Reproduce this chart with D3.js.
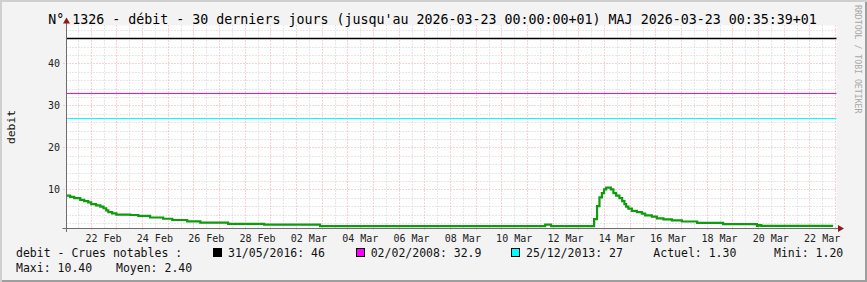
<!DOCTYPE html>
<html>
<head>
<meta charset="utf-8">
<script src="https://cdn.jsdelivr.net/npm/d3@7"></script>
<style>
  html, body { margin: 0; padding: 0; background: #f3f3f3; }
  svg { display: block; }
  text { font-family: "DejaVu Sans Mono", monospace; }
</style>
</head>
<body>
<div id="chart"></div>
<script>
// chart size
var width = 867;
var height = 282;

var titleText = "N° 1326 - débit - 30 derniers jours (jusqu'au 2026-03-23 00:00:00+01) MAJ 2026-03-23 00:35:39+01";

// debit steps (time the level starts, value)
var stepTimes = [
  "2026-02-21T00:00", "2026-02-21T04:48", "2026-02-21T08:36", "2026-02-21T14:12",
  "2026-02-21T17:54", "2026-02-21T21:42", "2026-02-22T00:30", "2026-02-22T05:00",
  "2026-02-22T09:00", "2026-02-22T12:00", "2026-02-22T14:30", "2026-02-22T16:30",
  "2026-02-22T20:00", "2026-02-23T00:00", "2026-02-23T13:00", "2026-02-23T20:30",
  "2026-02-24T07:30", "2026-02-24T19:45", "2026-02-25T04:15", "2026-02-25T18:15",
  "2026-02-26T06:30", "2026-02-27T08:30", "2026-02-28T18:15", "2026-03-02T22:30",
  "2026-03-11T17:00", "2026-03-11T22:30", "2026-03-13T14:45", "2026-03-13T17:30",
  "2026-03-13T19:45", "2026-03-13T22:00", "2026-03-14T00:00", "2026-03-14T02:00",
  "2026-03-14T06:24", "2026-03-14T08:48", "2026-03-14T11:18", "2026-03-14T14:24",
  "2026-03-14T17:00", "2026-03-14T19:06", "2026-03-14T20:42", "2026-03-14T22:48",
  "2026-03-15T02:00", "2026-03-15T06:42", "2026-03-15T11:24", "2026-03-15T14:30",
  "2026-03-15T20:42", "2026-03-16T01:24", "2026-03-16T07:36", "2026-03-16T15:24",
  "2026-03-17T00:48", "2026-03-17T15:06", "2026-03-18T15:24", "2026-03-19T23:00",
  "2026-03-20T00:30", "2026-03-20T03:00", "2026-03-22T22:12"
];
var stepValues = [
  8.5, 8.2, 7.9, 7.5,
  7.2, 6.9, 6.5, 6.2,
  5.9, 5.5, 5.0, 4.6,
  4.3, 4.0, 3.9, 3.7,
  3.3, 3.0, 2.7, 2.4,
  2.1, 1.8, 1.6, 1.25,
  1.6, 1.25, 2.9, 6.0,
  8.1, 9.1, 10.0, 10.4,
  10.0, 9.1, 8.5, 7.9,
  7.2, 6.5, 5.9, 5.4,
  4.9, 4.6, 4.2, 3.8,
  3.5, 3.1, 2.85, 2.6,
  2.35, 2.0, 1.7, 1.3,
  1.5, 1.3, 1.3
];

// notable floods
var floodDates = ["31/05/2016", "02/02/2008", "25/12/2013"];
var floodValues = [46, 32.9, 27];
var floodColors = ["#000000", "#ff00ff", "#00ffff"];

var statActuel = "1.30";
var statMini = "1.20";
var statMaxi = "10.40";
var statMoyen = "2.40";

// x axis labels (one every two days)
var tickDays = [
  "2026-02-22", "2026-02-24", "2026-02-26", "2026-02-28", "2026-03-02",
  "2026-03-04", "2026-03-06", "2026-03-08", "2026-03-10", "2026-03-12",
  "2026-03-14", "2026-03-16", "2026-03-18", "2026-03-20", "2026-03-22"
];
var yTicks = [10, 20, 30, 40];

var parseTime = d3.timeParse("%Y-%m-%dT%H:%M");
var parseDay = d3.timeParse("%Y-%m-%d");

// plot box
var plotL = 66.5, plotR = 835, plotT = 25.5, plotB = 228;

var x = d3.scaleTime()
  .domain([parseTime("2026-02-21T01:22"), parseTime("2026-03-23T00:00")])
  .range([plotL, plotR]);

var y = d3.scaleLinear()
  .domain([0.8, 49])
  .range([plotB, plotT]);

function snap(v) { return Math.round(v) + 0.5; }

var svg = d3.select("#chart")
  .append("svg")
  .attr("width", width)
  .attr("height", height);

// frame with shade
svg.append("rect")
  .attr("width", width).attr("height", height)
  .attr("fill", "#f3f3f3");
svg.append("path")
  .attr("d", "M1,282 V1 H867")
  .attr("fill", "none").attr("stroke", "#cfcfcf").attr("stroke-width", 2);
svg.append("path")
  .attr("d", "M2,281 H866 V2")
  .attr("fill", "none").attr("stroke", "#9e9e9e").attr("stroke-width", 2);

// canvas
svg.append("rect")
  .attr("x", plotL).attr("y", plotT)
  .attr("width", plotR - plotL + 1.5).attr("height", plotB - plotT)
  .attr("fill", "#ffffff");

var grid = svg.append("g").attr("fill", "none").attr("stroke-dasharray", "1,2");

// minor grid
var minorY = d3.range(2, 49, 2).filter(function(v) { return v % 10 !== 0; });
grid.selectAll(".minY")
  .data(minorY)
  .enter().append("line")
  .attr("x1", plotL).attr("x2", plotR + 1.5)
  .attr("y1", function(d) { return snap(y(d)); })
  .attr("y2", function(d) { return snap(y(d)); })
  .attr("stroke", "#cfcfcf");

var halfDays = d3.timeHour.every(12).range(x.domain()[0], x.domain()[1]);
var minorX = halfDays.filter(function(d) { return d.getHours() === 12; });
grid.selectAll(".minX")
  .data(minorX)
  .enter().append("line")
  .attr("y1", plotT).attr("y2", plotB)
  .attr("x1", function(d) { return snap(x(d)); })
  .attr("x2", function(d) { return snap(x(d)); })
  .attr("stroke", "#cfcfcf");

// major grid
var days = d3.timeDay.range(x.domain()[0], x.domain()[1]);
days.push(x.domain()[1]);
grid.selectAll(".majX")
  .data(days)
  .enter().append("line")
  .attr("y1", plotT).attr("y2", plotB + 2)
  .attr("x1", function(d) { return snap(x(d)); })
  .attr("x2", function(d) { return snap(x(d)); })
  .attr("stroke", "#f2a6a6");

grid.selectAll(".majY")
  .data(yTicks)
  .enter().append("line")
  .attr("x1", plotL - 3).attr("x2", plotR + 1.5)
  .attr("y1", function(d) { return snap(y(d)); })
  .attr("y2", function(d) { return snap(y(d)); })
  .attr("stroke", "#f2a6a6");

// flood reference lines
svg.selectAll(".flood")
  .data(floodValues)
  .enter().append("line")
  .attr("x1", plotL).attr("x2", plotR + 1.5)
  .attr("y1", function(d) { return snap(y(d)); })
  .attr("y2", function(d) { return snap(y(d)); })
  .attr("stroke", function(d, i) { return floodColors[i]; })
  .attr("stroke-width", function(d, i) { return i === 0 ? 1.5 : 1; });

// debit line
var data = stepTimes.map(function(t, i) {
  return { date: parseTime(t), value: stepValues[i] };
});

var line = d3.line()
  .curve(d3.curveStepAfter)
  .x(function(d) { return Math.max(plotL, x(d.date)); })
  .y(function(d) { return y(d.value); });

svg.append("path")
  .datum(data)
  .attr("d", line)
  .attr("fill", "none")
  .attr("stroke", "#0c9c0c")
  .attr("stroke-width", 2.2);

// axes
var axisColor = "#6e6e6e";
svg.append("line")
  .attr("x1", plotL - 4).attr("x2", plotR + 4)
  .attr("y1", plotB + 0.5).attr("y2", plotB + 0.5)
  .attr("stroke", axisColor);
svg.append("line")
  .attr("x1", plotL).attr("x2", plotL)
  .attr("y1", plotB + 4).attr("y2", plotT - 3)
  .attr("stroke", axisColor);
svg.append("path")
  .attr("d", "M" + (plotL - 3.5) + "," + (plotT - 2) + " L" + plotL + "," + (plotT - 8) + " L" + (plotL + 3.5) + "," + (plotT - 2) + "Z")
  .attr("fill", "#8b1c1c");
svg.append("path")
  .attr("d", "M" + (plotR + 3) + "," + (plotB - 3) + " L" + (plotR + 9) + "," + (plotB + 0.5) + " L" + (plotR + 3) + "," + (plotB + 4) + "Z")
  .attr("fill", "#8b1c1c");

// tick labels
var fmt = d3.timeFormat("%d %b");
svg.selectAll(".xl")
  .data(tickDays.map(parseDay))
  .enter().append("text")
  .attr("x", function(d) { return x(d3.timeHour.offset(d, 12)); })
  .attr("y", 241.5)
  .attr("text-anchor", "middle")
  .attr("font-size", "10px")
  .attr("fill", "#222")
  .text(function(d) { return fmt(d); });

svg.selectAll(".yl")
  .data(yTicks)
  .enter().append("text")
  .attr("x", 60)
  .attr("y", function(d) { return y(d); })
  .attr("dy", "0.35em")
  .attr("text-anchor", "end")
  .attr("font-size", "10px")
  .attr("fill", "#222")
  .text(function(d) { return d; });

// title and labels
svg.append("text")
  .attr("x", 432.5).attr("y", 24)
  .attr("text-anchor", "middle")
  .attr("font-size", "13.3px")
  .attr("fill", "#000")
  .text(titleText);

svg.append("text")
  .attr("transform", "translate(15,127) rotate(-90)")
  .attr("text-anchor", "middle")
  .attr("font-size", "11.3px")
  .attr("fill", "#111")
  .text("debit");

svg.append("text")
  .attr("transform", "translate(854.5,5) rotate(90)")
  .attr("font-size", "8.2px")
  .attr("fill", "#a8a8a8")
  .text("RRDTOOL / TOBI OETIKER");

// legend
var legend = svg.append("g")
  .attr("font-size", "11.5px")
  .attr("fill", "#111");

legend.append("text").attr("x", 16).attr("y", 257.3).text("debit - Crues notables :");

var boxX = [213.5, 356.5, 511.5];
var textX = [228, 370.7, 526];
floodDates.forEach(function(d, i) {
  legend.append("rect")
    .attr("x", boxX[i]).attr("y", 248.5)
    .attr("width", 8).attr("height", 8)
    .attr("fill", floodColors[i])
    .attr("stroke", "#000");
  legend.append("text")
    .attr("x", textX[i]).attr("y", 257.3)
    .text(d + ": " + floodValues[i]);
});

legend.append("text").attr("x", 653.3).attr("y", 257.3).text("Actuel: " + statActuel);
legend.append("text").attr("x", 774).attr("y", 257.3).text("Mini: " + statMini);
legend.append("text").attr("x", 16).attr("y", 271.7).text("Maxi: " + statMaxi);
legend.append("text").attr("x", 116).attr("y", 271.7).text("Moyen: " + statMoyen);
</script>
</body>
</html>
